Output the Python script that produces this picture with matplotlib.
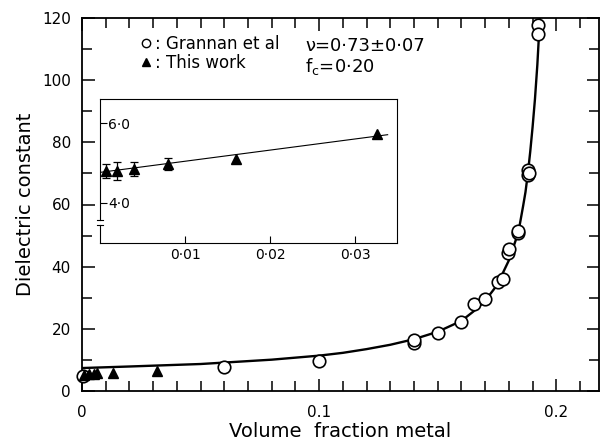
import numpy as np
import matplotlib
matplotlib.use("Agg")
import matplotlib.pyplot as plt
from matplotlib.ticker import MultipleLocator, FixedLocator
from matplotlib.lines import Line2D

plt.rcParams['font.family'] = ['DejaVu Sans']

# Grannan et al (open circles)
gr_x = [0.0005, 0.060, 0.100, 0.140, 0.140, 0.150, 0.160, 0.1655, 0.170, 0.1756,
        0.1775, 0.1798, 0.1800, 0.1838, 0.1840, 0.1882, 0.1882, 0.1885, 0.1924, 0.1924]
gr_y = [4.6, 7.6, 9.7, 15.3, 16.2, 18.7, 22.0, 27.8, 29.5, 34.9,
        36.0, 44.3, 45.5, 50.7, 51.5, 71.1, 69.5, 70.3, 117.9, 115.1]

# this work (triangles) in main panel
tw_x = [0.0007, 0.003, 0.005, 0.0065, 0.013, 0.0315]
tw_y = [5.2, 5.3, 5.3, 5.6, 5.6, 6.4]

# fitted curve
fit_x = [0.0, 0.02, 0.05, 0.08, 0.10, 0.11, 0.12, 0.13, 0.14, 0.15, 0.16, 0.165,
         0.17, 0.175, 0.18, 0.184, 0.186, 0.187, 0.188, 0.189, 0.190, 0.191,
         0.192, 0.1925, 0.193]
fit_y = [7.3, 7.8, 8.6, 10.0, 11.3, 12.2, 13.4, 14.8, 16.6, 19.0, 22.5, 25.5,
         29.0, 34.0, 42.0, 51.0, 59.5, 64.0, 70.0, 77.0, 85.0, 94.0,
         105.0, 112.0, 120.0]

# inset data
in_x = [0.0007, 0.002, 0.004, 0.008, 0.016, 0.0326]
in_y = [4.80, 4.80, 4.84, 4.97, 5.10, 5.73]
in_err = [0.18, 0.23, 0.17, 0.15]
in_line_x = [0.0, 0.0338]
in_line_y = [4.76, 5.71]

fig = plt.figure(figsize=(6, 4.46), dpi=100)
ax = fig.add_axes([82/600, (446-390.7)/446, 517/600, 372.4/446])

ax.plot(fit_x, fit_y, color='black', lw=1.7, zorder=2)
ax.plot(gr_x, gr_y, 'o', ms=9, mfc='white', mec='black', mew=1.2, zorder=3, clip_on=False)
ax.plot(tw_x, tw_y, '^', ms=6.5, color='black', zorder=3, clip_on=False)

ax.set_xlim(0, 0.218)
ax.set_ylim(0, 120)
ax.xaxis.set_major_locator(FixedLocator([0, 0.1, 0.2]))
ax.set_xticklabels(['0', '0.1', '0.2'])
ax.xaxis.set_minor_locator(MultipleLocator(0.01))
ax.yaxis.set_major_locator(MultipleLocator(20))
ax.yaxis.set_minor_locator(MultipleLocator(10))
ax.tick_params(which='both', direction='in', top=True, right=True, labelsize=11, width=1.1)
ax.tick_params(which='major', length=9)
ax.tick_params(which='minor', length=7)
ax.tick_params(axis='x', which='major', pad=10)
ax.tick_params(axis='y', which='major', pad=8)
for s in ax.spines.values():
    s.set_linewidth(1.3)

ax.set_xlabel('Volume  fraction metal', fontsize=14, labelpad=2)
ax.set_ylabel('Dielectric constant', fontsize=14, labelpad=5)

handles = [Line2D([], [], ls='none', marker='o', ms=6, mfc='white', mec='black', mew=1.0),
           Line2D([], [], ls='none', marker='^', ms=5.5, color='black')]
ax.legend(handles, [': Grannan et al', ': This work'], loc='upper left',
          bbox_to_anchor=(0.115, 0.955), frameon=False, fontsize=12,
          handlelength=0.5, handletextpad=0.3, labelspacing=0.05,
          borderpad=0, borderaxespad=0)
ax.text(0.432, 0.925, '\u03bd=0\u00b773\u00b10\u00b707', transform=ax.transAxes,
        fontsize=13, va='center', ha='left')
ax.text(0.432, 0.870, 'f$_{\\rm c}$=0\u00b720', transform=ax.transAxes,
        fontsize=13, va='center', ha='left')

# inset
ins = fig.add_axes([100/600, (446-243)/446, 297/600, 144/446])
ins.plot(in_line_x, in_line_y, color='black', lw=0.8)
ins.errorbar(in_x[:4], in_y[:4], yerr=in_err, fmt='none', ecolor='black',
             elinewidth=0.9, capsize=3, capthick=0.9)
ins.plot(in_x, in_y, '^', ms=7, color='black', clip_on=False)
ins.set_xlim(0, 0.0349)
ins.set_ylim(2.98, 6.61)
ins.xaxis.set_major_locator(FixedLocator([0.01, 0.02, 0.03]))
ins.set_xticklabels(['0\u00b701', '0\u00b702', '0\u00b703'])
ins.yaxis.set_major_locator(FixedLocator([4.0, 6.0]))
ins.set_yticklabels(['4\u00b70', '6\u00b70'])
ins.tick_params(direction='in', length=5, width=0.8, labelsize=10)
ins.tick_params(axis='y', pad=-6)
for lab in ins.get_yticklabels():
    lab.set_ha('left')
for s in ins.spines.values():
    s.set_linewidth(0.8)
# axis break on the inset's left spine
ins.spines['left'].set_bounds(3.56, 6.61)
ins.plot([0, 0], [2.98, 3.44], color='black', lw=0.8, clip_on=False)
ins.plot([-0.0004, 0.0004], [3.44, 3.44], color='black', lw=0.8, clip_on=False)
ins.plot([-0.0004, 0.0004], [3.56, 3.56], color='black', lw=0.8, clip_on=False)

fig.savefig('out.png', dpi=100)
